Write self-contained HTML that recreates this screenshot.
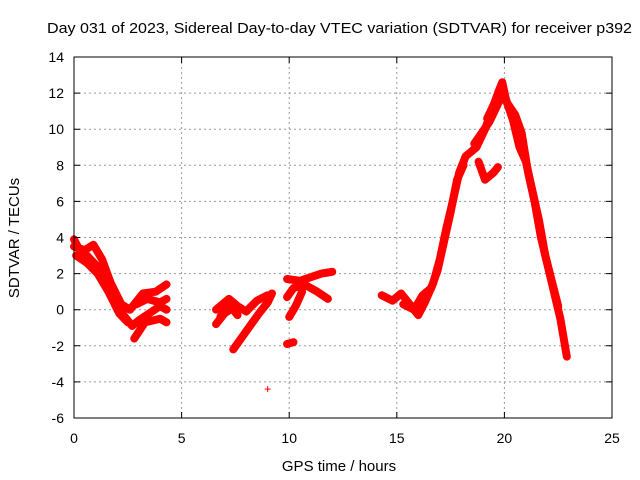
<!DOCTYPE html>
<html><head><meta charset="utf-8"><style>
body{margin:0;background:#fff;}
svg{display:block;font-family:"Liberation Sans",sans-serif;}
</style></head><body>
<svg id="chart" width="640" height="480">
<text x="47" y="33" font-size="15" textLength="585" lengthAdjust="spacingAndGlyphs">Day 031 of 2023, Sidereal Day-to-day VTEC variation (SDTVAR) for receiver p392</text>
<text x="339" y="471" font-size="15" text-anchor="middle">GPS time / hours</text>
<text transform="translate(19,238) rotate(-90)" font-size="15" text-anchor="middle">SDTVAR / TECUs</text>
<g id="grid"></g><g id="marks"></g>
<rect x="74" y="57" width="538" height="361" fill="none" stroke="#000"/>
<g id="ticks"></g>
</svg>
<script>
const xTicks=[0,5,10,15,20,25];
const yTicks=[-6,-4,-2,0,2,4,6,8,10,12,14];
const tracks=[
[[0,3.9],[0.3,3.2],[0.6,3.0],[1.0,2.5],[1.5,1.6],[2.0,0.5],[2.3,-0.3],[2.7,-0.9],[3.0,-0.6],[3.5,-0.2],[4.0,0.2],[4.3,0]],
[[0,3.5],[0.5,3.3],[0.9,3.6],[1.3,2.8],[1.7,1.5],[2.2,0.3],[2.6,0],[3.2,0.9],[3.8,1.0],[4.3,1.4]],
[[0.1,3.0],[0.6,2.6],[1.1,2.0],[1.6,1.0],[2.1,-0.2],[2.5,-0.7]],
[[2.8,-1.6],[3.3,-0.7],[4.0,-0.5],[4.3,-0.7]],
[[2.9,0.3],[3.4,0.6],[4.0,0.4],[4.3,0.6]],
[[6.6,0],[7.2,0.6],[7.6,0.2],[8.0,-0.1],[8.5,0.5],[9.0,0.8]],
[[7.4,-2.2],[8.0,-1.2],[8.6,-0.2],[9.0,0.4],[9.2,0.9]],
[[6.6,-0.8],[7.0,-0.2],[7.5,0.2]],
[[6.8,-0.4],[7.2,0.3],[7.6,-0.3]],
[[9.9,1.7],[10.5,1.6],[11.0,1.8],[11.5,2.0],[12.0,2.1]],
[[9.9,0.7],[10.2,1.2],[10.7,1.4],[11.3,1.0],[11.8,0.6]],
[[9.9,-1.9],[10.2,-1.8]],
[[10.0,-0.4],[10.3,0.2],[10.6,1.0]],
[[14.3,0.8],[14.8,0.5],[15.2,0.9],[15.6,0.3],[16.0,-0.3],[16.3,0.4],[16.7,1.5],[17.0,2.8],[17.3,4.5],[17.6,6.0],[17.9,7.6],[18.2,8.5],[18.7,9.0],[19.1,10.0],[19.4,11.0],[19.7,12.0],[19.9,12.6],[20.1,11.5],[20.5,10.8],[20.8,9.8],[21.1,7.6],[21.4,6.0],[21.7,4.0],[22.0,2.5],[22.3,1.0],[22.6,-0.5],[22.9,-2.6]],
[[15.3,0.3],[15.8,0.0],[16.2,0.8],[16.6,1.2],[16.9,2.2],[17.2,3.8],[17.5,5.4],[17.8,7.2],[18.1,8.0]],
[[19.2,10.6],[19.6,11.6],[20.0,11.9],[20.4,10.5],[20.7,9.0],[21.0,8.2],[21.3,6.6],[21.6,5.0],[21.9,3.0],[22.2,1.6],[22.5,0.2]],
[[18.8,8.2],[19.1,7.2],[19.5,7.6],[19.7,7.9]],
[[18.6,9.2],[19.3,10.4],[19.9,11.9]]
];
const outliers=[[9.0,-4.4]];
const NS="http://www.w3.org/2000/svg";
const X=v=>74+v*538/25, Y=v=>418-(v+6)*361/20;
function mk(t,a){const e=document.createElementNS(NS,t);for(const k in a)e.setAttribute(k,a[k]);return e;}
const grid=document.getElementById('grid'),ticks=document.getElementById('ticks'),marks=document.getElementById('marks');
xTicks.forEach(t=>{
 if(t>0&&t<25){const l=mk('line',{x1:X(t),x2:X(t),y1:57,y2:418,stroke:'#999','stroke-dasharray':'2,3'});
 
 grid.appendChild(l);}
 const tk=mk('path',{d:`M${X(t)},418v-6M${X(t)},57v6`,stroke:'#000'});
 
 ticks.appendChild(tk);
 const tx=mk('text',{x:X(t),y:443,'font-size':14,'text-anchor':'middle'});tx.textContent=t;
 
 ticks.appendChild(tx);
});
yTicks.forEach(t=>{
 if(t>-6&&t<14){const l=mk('line',{x1:74,x2:612,y1:Y(t),y2:Y(t),stroke:'#999','stroke-dasharray':'2,3'});
 
 grid.appendChild(l);}
 const tk=mk('path',{d:`M74,${Y(t)}h6M612,${Y(t)}h-6`,stroke:'#000'});
 
 ticks.appendChild(tk);
 const tx=mk('text',{x:64,y:Y(t)+5,'font-size':14,'text-anchor':'end'});tx.textContent=t;
 
 ticks.appendChild(tx);
});
tracks.forEach(tr=>{
 const p=mk('polyline',{points:tr.map(d=>X(d[0])+','+Y(d[1])).join(' '),fill:'none',stroke:'#f00','stroke-width':8,'stroke-linejoin':'round','stroke-linecap':'round'});
 
 marks.appendChild(p);
});
outliers.forEach(d=>{
 const p=mk('path',{d:`M${X(d[0])-3},${Y(d[1])}h6M${X(d[0])},${Y(d[1])-3}v6`,stroke:'#f00'});
 
 marks.appendChild(p);
});
</script>
</body></html>
